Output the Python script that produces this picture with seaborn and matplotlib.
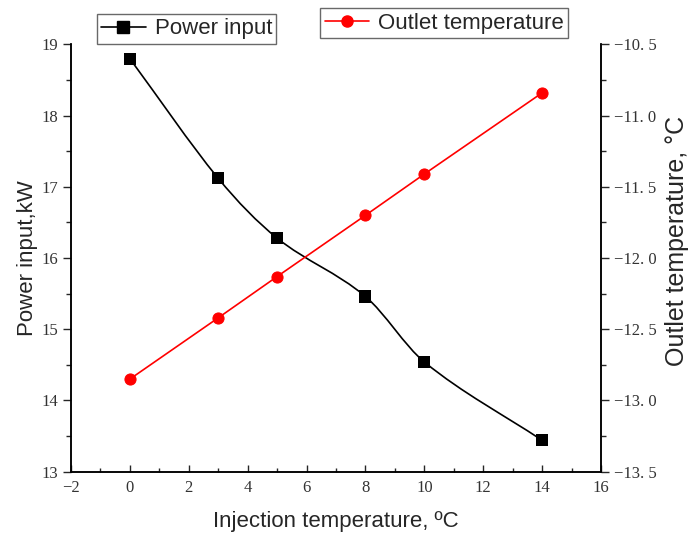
import matplotlib
matplotlib.use("Agg")
import numpy as np
import pandas as pd
import matplotlib.pyplot as plt
import seaborn as sns
from matplotlib.path import Path
from matplotlib.patches import PathPatch
from matplotlib.lines import Line2D
from matplotlib.ticker import MultipleLocator, FuncFormatter

# data
injection_temp = [0, 3, 5, 8, 10, 14]
power_input = [18.80, 17.12, 16.28, 15.46, 14.54, 13.44]
outlet_temp = [-12.85, -12.42, -12.13, -11.70, -11.41, -10.84]

df = pd.DataFrame({"Injection": injection_temp, "Power": power_input, "Outlet": outlet_temp})

sns.set_style("ticks")
plt.rcParams["font.family"] = ["Liberation Sans", "DejaVu Sans"]

fig = plt.figure(figsize=(6.96, 5.39), dpi=100)
ax = fig.add_axes([0.102, 0.125, 0.7615, 0.7925])
ax2 = ax.twinx()

# smooth black curve: cubic bezier segments with slope-based control points
xs = np.asarray(injection_temp, float)
ys = np.asarray(power_input, float)
slopes = np.empty_like(ys)
slopes[1:-1] = (ys[2:] - ys[:-2]) / (xs[2:] - xs[:-2])
slopes[0] = (ys[1] - ys[0]) / (xs[1] - xs[0])
slopes[-1] = (ys[-1] - ys[-2]) / (xs[-1] - xs[-2])
verts = [(xs[0], ys[0])]
codes = [Path.MOVETO]
for i in range(len(xs) - 1):
    h = xs[i + 1] - xs[i]
    verts += [(xs[i] + h / 3, ys[i] + slopes[i] * h / 3),
              (xs[i + 1] - h / 3, ys[i + 1] - slopes[i + 1] * h / 3),
              (xs[i + 1], ys[i + 1])]
    codes += [Path.CURVE4] * 3
ax.add_patch(PathPatch(Path(verts, codes), fill=False, edgecolor="black", lw=1.2, zorder=2))
sns.scatterplot(data=df, x="Injection", y="Power", ax=ax, marker="s", s=75,
                color="black", edgecolor="none", zorder=3, legend=False)

sns.lineplot(data=df, x="Injection", y="Outlet", ax=ax2, color="red", lw=1.2,
             marker="o", markersize=8, markeredgecolor="red", legend=False)

ax.set_xlim(-2, 16)
ax.set_ylim(13, 19)
ax2.set_ylim(-13.5, -10.5)

ax.xaxis.set_major_locator(MultipleLocator(2))
ax.xaxis.set_minor_locator(MultipleLocator(1))
ax.yaxis.set_major_locator(MultipleLocator(1))
ax.yaxis.set_minor_locator(MultipleLocator(0.5))
ax2.yaxis.set_major_locator(MultipleLocator(0.5))
ax2.yaxis.set_minor_locator(MultipleLocator(0.25))


def fmt_int(v, pos):
    return f"{v:.0f}".replace("-", "\u2212")


def fmt_dec(v, pos):
    return f"{v:.1f}".replace("-", "\u2212").replace(".", ". ")


ax.xaxis.set_major_formatter(FuncFormatter(fmt_int))
ax.yaxis.set_major_formatter(FuncFormatter(fmt_int))
ax2.yaxis.set_major_formatter(FuncFormatter(fmt_dec))

for a in (ax, ax2):
    for side in ("left", "right", "bottom"):
        a.spines[side].set_linewidth(1.1)
        a.spines[side].set_color("black")
    a.spines["top"].set_visible(False)

ax.tick_params(axis="x", which="major", direction="in", length=5, width=1, pad=6)
ax.tick_params(axis="x", which="minor", direction="in", length=3, width=1)
ax.tick_params(axis="y", which="major", direction="out", length=6, width=1)
ax.tick_params(axis="y", which="minor", direction="out", length=3.5, width=1)
ax2.tick_params(axis="y", which="major", direction="out", length=6, width=1)
ax2.tick_params(axis="y", which="minor", direction="out", length=3.5, width=1)

for lab in ax.get_xticklabels() + ax.get_yticklabels() + ax2.get_yticklabels():
    lab.set_fontfamily("Liberation Serif")
    lab.set_fontsize(12)
    lab.set_color("#333333")

ax.set_xlabel("Injection temperature, \u00baC", fontsize=16, labelpad=11)
ax.set_ylabel("Power input,kW", fontsize=16, labelpad=2)
ax2.set_ylabel("Outlet temperature, \u00b0C", fontsize=18)
ax2.yaxis.set_label_coords(1.12, 0.54)

h1 = Line2D([], [], color="black", lw=1.2, marker="s", markersize=8)
h2 = Line2D([], [], color="red", lw=1.2, marker="o", markersize=8)
leg1 = fig.legend([h1], ["Power input"], loc="upper left", bbox_to_anchor=(0.139, 0.974),
                  fontsize=16, frameon=True, fancybox=False, handlelength=2.0,
                  borderpad=0.2, handletextpad=0.4, borderaxespad=0)
leg2 = fig.legend([h2], ["Outlet temperature"], loc="upper left", bbox_to_anchor=(0.46, 0.985),
                  fontsize=16, frameon=True, fancybox=False, handlelength=2.0,
                  borderpad=0.2, handletextpad=0.4, borderaxespad=0)
for lg in (leg1, leg2):
    lg.get_frame().set_edgecolor("#444444")
    lg.get_frame().set_linewidth(1.0)

fig.savefig("out.png", dpi=100)
